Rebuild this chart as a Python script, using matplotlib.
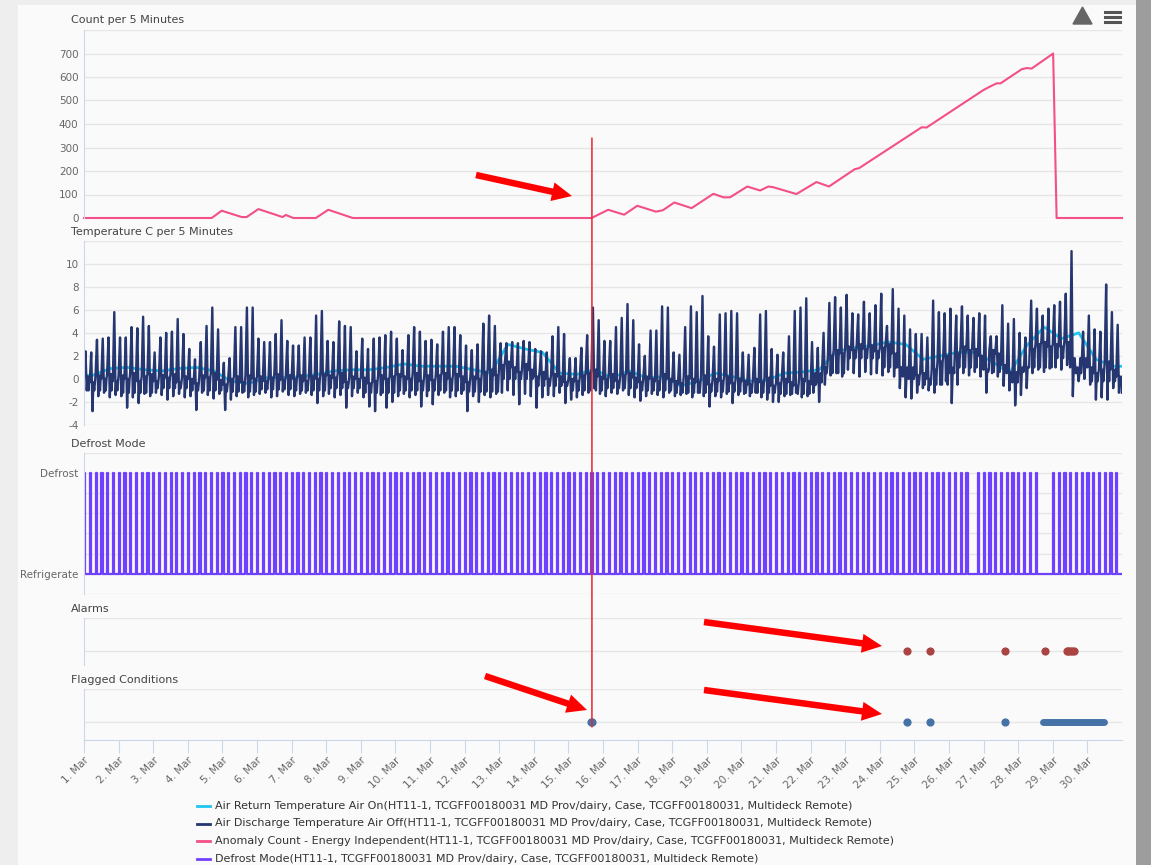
import numpy as np
import matplotlib.pyplot as plt
from matplotlib.patches import Rectangle, FancyArrow, Polygon, ConnectionPatch
from matplotlib.lines import Line2D
from matplotlib.transforms import IdentityTransform

# ---- data (time = days since 1 Mar 00:00) ----
day_labels = [f"{d}. Mar" for d in range(1, 31)]

# anomaly count (pink)
count_t = [0, 3.69, 3.98, 4.56, 4.70, 5.04, 5.74, 5.83, 6.05, 6.70, 7.06, 7.77,
           14.67, 15.15, 15.61, 15.99, 16.53, 16.73, 17.06, 17.56, 18.19, 18.48,
           18.67, 19.17, 19.54, 19.78, 19.92, 20.59, 21.17, 21.53, 22.28, 22.40,
           24.21, 24.35, 25.99, 26.18, 26.38, 26.49, 27.10, 27.24, 27.39, 28.01,
           28.11, 30.0]
count_v = [0, 0, 31, 4, 4, 38, 4, 13, 0, 0, 35, 0,
           0, 35, 14, 52, 27, 33, 66, 42, 103, 88,
           88, 134, 117, 134, 131, 102, 153, 134, 208, 212,
           386, 385, 544, 559, 573, 573, 633, 638, 636, 700,
           0, 0]

# defrost schedule (hours of day) and skipped defrosts (days since 1 Mar)
defrost_hours = [0, 4, 8, 12, 16, 20]
defrost_skipped = [25 + 16/24, 27 + 16/24, 27 + 20/24]
defrost_minutes = 50

# air discharge temperature around each defrost (6 per day): peak, trough, level
disc_peaks = [
    2.4, 2.3, 3.4, 3.5, 3.6, 5.8,
    3.6, 3.6, 4.5, 4.4, 5.4, 4.6,
    2.3, 3.6, 4.0, 4.1, 5.2, 3.9,
    2.6, 1.7, 3.2, 4.6, 6.2, 4.3,
    1.4, 1.8, 4.5, 4.5, 6.2, 6.2,
    3.5, 3.2, 3.2, 3.9, 5.1, 3.3,
    2.9, 2.9, 3.6, 3.6, 5.5, 5.9,
    3.3, 3.2, 5.0, 4.6, 4.5, 2.4,
    3.5, 2.6, 3.5, 3.6, 3.8, 4.1,
    3.5, 2.5, 3.8, 4.5, 4.1, 3.3,
    3.4, 3.0, 4.1, 4.5, 4.5, 3.8,
    2.9, 2.5, 3.0, 4.8, 5.5, 4.6,
    3.1, 3.1, 3.2, 3.1, 3.3, 3.2,
    2.6, 2.4, 2.3, 3.7, 4.5, 3.9,
    1.8, 1.8, 2.7, 3.8, 6.2, 5.1,
    3.3, 3.3, 4.5, 5.3, 6.5, 5.1,
    3.0, 2.0, 4.2, 4.2, 6.3, 6.2,
    2.3, 2.1, 4.5, 6.3, 5.8, 7.2,
    3.7, 2.8, 5.6, 5.7, 5.9, 5.7,
    2.3, 2.1, 2.7, 5.6, 5.9, 2.6,
    2.1, 2.3, 3.7, 5.9, 6.2, 7.0,
    3.2, 2.7, 4.0, 6.6, 7.1, 6.2,
    7.3, 5.7, 5.6, 6.7, 5.7, 6.4,
    7.4, 4.6, 7.8, 6.1, 5.5, 4.3,
    3.9, 3.9, 3.6, 6.8, 5.8, 5.7,
    6.1, 5.5, 6.3, 5.5, 5.3, 5.7,
    5.5, 3.7, 3.7, 6.4, 4.8, 5.2,
    4.0, 3.6, 6.8, 6.1, 5.5, 6.1,
    6.4, 6.7, 7.4, 11.1, 1.0, 4.1,
    5.5, 4.3, 4.1, 8.2, 5.8, 4.7,
]
disc_troughs = [
    -1.0, -2.8, -1.5, -1.2, -1.6, -1.4,
    -1.5, -2.5, -1.6, -2.1, -1.3, -1.5,
    -1.2, -1.4, -1.8, -1.5, -1.3, -1.6,
    -1.5, -2.7, -1.2, -1.4, -1.7, -1.3,
    -2.7, -1.8, -1.5, -1.2, -1.6, -1.4,
    -1.3, -1.2, -1.6, -1.5, -1.1, -1.4,
    -1.5, -1.3, -1.2, -1.4, -2.1, -1.5,
    -1.3, -1.6, -1.4, -2.5, -1.5, -1.2,
    -1.6, -2.4, -2.8, -1.4, -2.5, -2.0,
    -1.5, -1.3, -1.6, -1.4, -2.4, -1.5,
    -2.2, -1.4, -1.2, -1.6, -1.5, -1.3,
    -2.8, -1.5, -2.0, -1.4, -1.6, -1.3,
    -1.2, -1.0, -1.4, -2.2, -1.3, -1.5,
    -2.5, -1.6, -1.4, -1.5, -1.2, -2.1,
    -1.8, -1.6, -1.4, -1.2, -0.8, -1.3,
    -1.5, -1.2, -1.3, -1.0, -1.4, -1.6,
    -1.9, -1.5, -1.3, -1.4, -1.6, -1.2,
    -1.5, -1.4, -1.3, -1.6, -1.2, -1.5,
    -2.4, -1.5, -1.6, -1.3, -2.1, -1.4,
    -1.3, -1.5, -1.2, -1.6, -1.8, -2.0,
    -2.0, -1.5, -1.4, -1.2, -1.6, -1.5,
    -1.2, -2.0, -0.5, 0.3, 0.5, 0.2,
    0.8, 0.5, 0.2, 0.6, 0.4, 0.5,
    0.3, 0.6, 0.2, -0.8, -1.6, -1.7,
    -1.2, -0.8, -1.0, -1.2, -0.5, -0.2,
    -2.1, -0.5, 0.5, 0.3, 0.6, 0.2,
    -1.2, 0.5, 0.2, -0.6, -1.0, -2.3,
    -1.4, -0.8, 0.5, 0.8, 0.6, 0.9,
    1.0, 0.8, 1.2, -1.5, -0.2, 0.0,
    -0.5, -1.8, -1.6, -1.8, -0.8, -1.2,
]
disc_level = [
    0.2, -0.3, 0.3, 0.0, 0.4, -0.2,
    0.3, 0.0, 0.5, -0.2, 0.2, 0.4,
    -0.2, 0.3, 0.1, 0.4, -0.3, 0.2,
    0.0, -0.4, 0.3, 0.1, 0.5, -0.1,
    -0.5, 0.0, 0.2, -0.3, 0.3, 0.0,
    0.2, -0.2, 0.1, 0.4, -0.1, 0.3,
    0.0, 0.3, -0.2, 0.2, 0.0, 0.4,
    0.3, 0.1, 0.5, -0.3, 0.2, 0.0,
    0.1, -0.4, -0.2, 0.3, 0.0, 0.2,
    0.4, 0.2, 0.0, 0.5, -0.2, 0.3,
    -0.1, 0.3, 0.5, 0.0, 0.4, 0.2,
    -0.3, 0.2, 0.0, 0.6, 0.8, 0.3,
    1.2, 1.5, 1.0, 0.6, 1.3, 0.8,
    0.2, 0.6, 0.0, 0.4, 0.2, -0.3,
    0.0, -0.2, 0.3, 0.5, 0.8, 0.2,
    0.0, 0.4, -0.2, 0.3, 0.5, 0.1,
    -0.3, 0.2, 0.0, -0.2, 0.4, 0.0,
    -0.2, -0.4, 0.2, 0.0, -0.3, 0.3,
    -0.5, 0.0, -0.2, 0.2, -0.4, 0.0,
    -0.2, -0.5, 0.0, -0.3, 0.1, -0.6,
    -0.4, 0.0, -0.3, -0.6, 0.0, -0.2,
    -0.5, -0.3, 1.0, 2.0, 2.5, 2.2,
    2.8, 2.5, 3.0, 2.6, 2.9, 2.4,
    2.7, 3.0, 2.2, 1.0, 0.2, 0.0,
    0.3, 0.5, 0.0, 0.8, 1.5, 2.0,
    0.5, 2.2, 2.8, 2.5, 2.6, 2.0,
    0.8, 2.5, 2.2, 1.2, 0.5, -0.3,
    0.6, 1.0, 2.6, 3.0, 3.2, 2.8,
    3.0, 2.8, 3.2, 1.0, 0.5, 1.2,
    1.0, 0.5, 0.8, 1.5, 0.8, 0.2,
]
# second dip between defrosts, one value per day
disc_low2 = [-1.0, -1.2, -0.8, -1.0, -1.1, -0.9, -1.0, -0.8, -1.2, -1.0,
             -1.0, -1.1, 0.0, -0.6, -1.0, -0.8, -1.0, -1.2, -1.1, -1.2,
             -1.3, 0.5, 1.8, 1.0, -0.5, 1.0, 0.6, 1.0, 1.8, -0.2]
disc_end = -1.2

# air return temperature, two readings per day (cyan)
ret_temp = [0.3, 0.9, 1.0, 0.8, 0.7, 0.9, 1.0, 0.7, -0.2, -0.4,
            0.1, 0.1, 0.2, 0.4, 0.7, 0.8, 0.8, 1.0, 1.3, 1.1,
            1.1, 1.1, 0.8, 0.5, 3.0, 2.6, 2.3, 0.5, 0.4, 0.8,
            0.1, 0.7, 0.1, 0.2, -0.6, -0.2, 0.5, 0.2, -0.2, -0.1,
            0.5, 0.6, 0.8, 2.4, 2.7, 2.9, 3.2, 3.0, 1.7, 2.0,
            2.3, 2.3, 1.5, 0.5, 2.9, 4.5, 3.5, 4.0, 1.7, 1.1]

alarm_t = [23.78, 24.44, 26.63, 27.77, 28.40, 28.45, 28.50, 28.55, 28.60]
flag_t = [14.66, 14.69, 23.78, 24.44, 26.63]
flag_spans = [(27.72, 29.49)]
marker_day = 14.68

legend_names = [
    "Air Return Temperature Air On(HT11-1, TCGFF00180031 MD Prov/dairy, Case, TCGFF00180031, Multideck Remote)",
    "Air Discharge Temperature Air Off(HT11-1, TCGFF00180031 MD Prov/dairy, Case, TCGFF00180031, Multideck Remote)",
    "Anomaly Count - Energy Independent(HT11-1, TCGFF00180031 MD Prov/dairy, Case, TCGFF00180031, Multideck Remote)",
    "Defrost Mode(HT11-1, TCGFF00180031 MD Prov/dairy, Case, TCGFF00180031, Multideck Remote)",
]
c_ret, c_dis, c_cnt, c_def = "#1fc6f0", "#253670", "#f34f88", "#7040ff"
c_alarm, c_flag = "#a94442", "#4572a7"

# ---- build series ----
defrosts = [d + h / 24 for d in range(30) for h in defrost_hours]
defrosts = [d for d in defrosts if all(abs(d - s) > 1e-6 for s in defrost_skipped)]
def_x, def_y = [0.0], [0]
for d in defrosts:
    e = d + defrost_minutes / 1440
    def_x += [d, d, e, e]
    def_y += [0, 1, 1, 0]
def_x.append(30.0); def_y.append(0)

dis_x, dis_y = [], []
for i, p in enumerate(disc_peaks):
    d = i // 6 + defrost_hours[i % 6] / 24
    day = i // 6
    hrs = [0.0, 1.0, 1.9, 2.5, 3.1, 3.6]
    dis_x += [d + h / 24 for h in hrs]
    dis_y += [disc_level[i], p, disc_troughs[i], disc_level[i], disc_low2[day],
              disc_level[i]]
dis_x.append(30.0); dis_y.append(disc_end)

ret_x = [0.0] + [k * 0.5 + 0.25 for k in range(len(ret_temp))] + [30.0]
ret_y = [ret_temp[0]] + ret_temp + [ret_temp[-1]]

# ---- figure ----
W, H = 1151, 865
fig = plt.figure(figsize=(W / 100, H / 100), dpi=100)
fig.patch.set_facecolor("#eeeeee")
px = IdentityTransform()
fig.add_artist(Rectangle((18, 0), 1118, H - 5, transform=px, facecolor="#fafafa",
                         edgecolor="none", zorder=-10))
fig.add_artist(Rectangle((1136, 0), 15, H, transform=px, facecolor="#9d9d9d",
                         edgecolor="none", zorder=-10))

def box(y0, y1, x0=84, x1=1122):
    return [x0 / W, 1 - y1 / H, (x1 - x0) / W, (y1 - y0) / H]

grid_c, axis_c, lab_c = "#e6e6e6", "#ccd6eb", "#666666"

def style(ax, title, ty):
    ax.set_facecolor("none")
    ax.set_xlim(0, 30)
    for s in ["top", "right", "bottom"]:
        ax.spines[s].set_visible(False)
    ax.spines["left"].set_color(axis_c)
    ax.tick_params(axis="y", length=0, labelsize=7.5, labelcolor=lab_c, pad=4)
    ax.tick_params(axis="x", length=0, labelbottom=False)
    ax.grid(axis="y", color=grid_c, lw=1)
    ax.set_axisbelow(True)
    fig.text(71 / W, 1 - ty / H, title, fontsize=8, color="#444444", va="center")

ax1 = fig.add_axes(box(30, 218))
style(ax1, "Count per 5 Minutes", 20)
ax1.set_ylim(0, 800)
ax1.set_yticks(range(0, 801, 100))
ax1.set_yticklabels([str(v) for v in range(0, 701, 100)] + [""])
ax1.plot(count_t, count_v, color=c_cnt, lw=1.5, clip_on=False)

ax2 = fig.add_axes(box(240.7, 425))
style(ax2, "Temperature C per 5 Minutes", 232)
ax2.set_ylim(-4, 12)
ax2.set_yticks(range(-4, 13, 2))
ax2.set_yticklabels([str(v) for v in range(-4, 11, 2)] + [""])
ax2.plot(ret_x, ret_y, color=c_ret, lw=2.0)
ax2.plot(dis_x, dis_y, color=c_dis, lw=1.7)

ax3 = fig.add_axes(box(452.7, 594))
style(ax3, "Defrost Mode", 444)
ax3.set_ylim(-0.2, 1.2)
ax3.set_yticks(np.arange(-0.2, 1.21, 0.2))
ax3.set_yticklabels(["", "Refrigerate", "", "", "", "", "Defrost", ""])
ax3.plot(def_x, def_y, color=c_def, lw=1.6)

ax4 = fig.add_axes(box(618, 665))
style(ax4, "Alarms", 609)
ax4.set_ylim(-0.42, 1)
ax4.set_yticks([0, 1])
ax4.set_yticklabels([])
ax4.scatter(alarm_t, [0] * len(alarm_t), s=24, color=c_alarm, zorder=3)

ax5 = fig.add_axes(box(689, 740))
style(ax5, "Flagged Conditions", 680)
ax5.set_ylim(-0.56, 1)
ax5.set_yticks([0, 1])
ax5.set_yticklabels([])
ax5.scatter(flag_t, [0] * len(flag_t), s=24, color=c_flag, zorder=3)
for a, b in flag_spans:
    ax5.plot([a, b], [0, 0], color=c_flag, lw=5, solid_capstyle="round", zorder=3)
ax5.spines["bottom"].set_visible(True)
ax5.spines["bottom"].set_color(axis_c)
ax5.set_xticks(range(30))
ax5.set_xticklabels(day_labels)
ax5.tick_params(axis="x", length=9, color=axis_c, labelbottom=True,
                labelsize=7.5, labelcolor=lab_c, pad=2)
for lbl in ax5.get_xticklabels():
    lbl.set_rotation(45)
    lbl.set_ha("right")
    lbl.set_rotation_mode("anchor")

# red marker line across panels
fig.add_artist(ConnectionPatch(xyA=(marker_day, 340), coordsA=ax1.transData,
                               xyB=(marker_day, -0.16), coordsB=ax5.transData,
                               color="#e8262b", lw=1.1))

# red annotation arrows (pixel coords, top-left origin)
arrows = [((476, 175), (572, 196)), ((704, 622), (882, 646)),
          ((704, 690), (882, 714)), ((485, 676), (587, 710))]
for (x0, y0), (x1, y1) in arrows:
    fig.add_artist(FancyArrow(x0, H - y0, x1 - x0, -(y1 - y0), width=6.5,
                              head_width=19, head_length=20,
                              length_includes_head=True, transform=px,
                              color="#ff0000", lw=0, zorder=5))

# toolbar icons
fig.add_artist(Polygon([(1073, H - 24), (1092, H - 24), (1082.5, H - 7)],
                       transform=px, color="#666666"))
for yy in (11.5, 16.5, 21.5):
    fig.add_artist(Line2D([1105, 1120], [H - yy, H - yy], transform=px,
                          color="#555555", lw=2.2))

# legend
for k, (name, c) in enumerate(zip(legend_names, [c_ret, c_dis, c_cnt, c_def])):
    yy = H - (806 + 17.5 * k)
    fig.add_artist(Line2D([197, 210], [yy, yy], transform=px, color=c, lw=2))
    fig.text(215 / W, yy / H, name, fontsize=8, color="#333333", va="center")

fig.savefig("out.png", dpi=100, facecolor=fig.get_facecolor())
